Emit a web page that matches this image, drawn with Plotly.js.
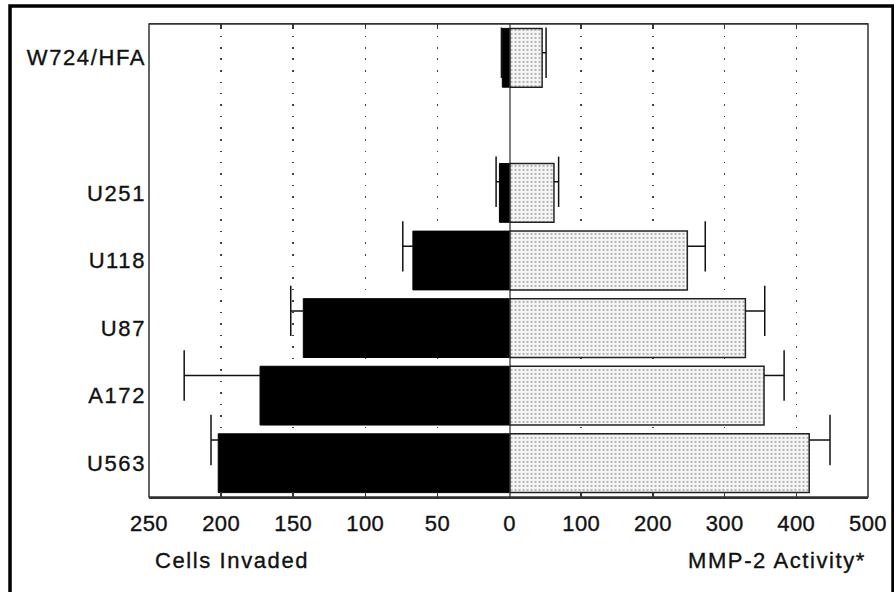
<!DOCTYPE html>
<html><head><meta charset="utf-8">
<script src="https://cdn.plot.ly/plotly-3.0.1.min.js"></script>
<style>
html,body{margin:0;padding:0;background:#fff}
#chart{width:894px;height:592px}
svg text{letter-spacing:1.6px; stroke:#111; stroke-width:0.35px}
.xtick text,.x2tick text{letter-spacing:0.4px}
</style>
</head><body><div id="chart"></div>
<script>
// category slots (bottom to top), blank slot between U251 and W724/HFA
const slots = ['U563','A172','U87','U118','U251',' ','W724/HFA'];
const cellLines = ['W724/HFA','U251','U118','U87','A172','U563'];
const cellsInvaded = [5, 7, 67, 143, 173, 202];
const cellsInvadedErr = [0.6, 2.3, 7, 8.7, 52.6, 5];
const mmp2Activity = [45.5, 62, 248, 329, 355, 418];
const mmp2Err = [5.5, 6.5, 25, 27, 28, 29];
const leftTicks = [250,200,150,100,50,0];
const rightTicks = [100,200,300,400,500];
const leftLabel = 'Cells Invaded';
const rightLabel = 'MMP-2 Activity*';

const FONT = 'Liberation Sans, Arial, Helvetica, sans-serif';
const split = 0.5014;

function errTrace(vals, errs, xa){
  return {
    type:'scatter', mode:'markers', xaxis:xa, yaxis:'y2',
    x: vals.map((v,i)=>v+errs[i]), y: cellLines,
    marker:{symbol:'line-ns-open', size:36, color:'#111', line:{color:'#111', width:1.5}},
    error_x:{type:'data', symmetric:false, array:errs.map(()=>0), arrayminus:errs,
             width:0, thickness:1.5, color:'#111'},
    hoverinfo:'skip', showlegend:false, cliponaxis:false
  };
}

const traces = [
  {type:'bar', orientation:'h', x:cellsInvaded, y:cellLines, xaxis:'x', yaxis:'y',
   width:0.87, marker:{color:'#000', line:{color:'#000', width:1}}, showlegend:false},
  {type:'bar', orientation:'h', x:mmp2Activity, y:cellLines, xaxis:'x2', yaxis:'y',
   width:0.87, marker:{color:'#f2f2f2',
     pattern:{shape:'.', fgcolor:'#b4b4b4', bgcolor:'#f6f6f6', size:4, solidity:0.25},
     line:{color:'#222', width:1.5}}, showlegend:false},
  errTrace(cellsInvaded, cellsInvadedErr, 'x'),
  errTrace(mmp2Activity, mmp2Err, 'x2')
];

const xcommon = {
  anchor:'y', showline:true, linecolor:'#333', linewidth:1.5, mirror:'ticks',
  ticks:'inside', ticklen:5, tickwidth:1.5, tickcolor:'#333',
  showgrid:true, gridcolor:'#444', gridwidth:1.5, griddash:'1.5px,10px',
  zeroline:false, tickmode:'array',
  tickfont:{family:FONT, size:22, color:'#111'}, ticklabelstandoff:6
};

const layout = {
  width:894, height:592,
  margin:{l:149, r:26, t:24, b:95},
  paper_bgcolor:'#fff', plot_bgcolor:'#fff',
  bargap:0, showlegend:false,
  xaxis:Object.assign({}, xcommon, {domain:[0, split], range:[250, 0], tickvals:leftTicks}),
  xaxis2:Object.assign({}, xcommon, {domain:[split, 1], range:[0, 500], tickvals:rightTicks}),
  yaxis:{type:'category', categoryorder:'array', categoryarray:slots, range:[-0.5, 6.5],
    showline:false, ticks:'', showgrid:false, zeroline:false, ticklabelstandoff:2,
    tickfont:{family:FONT, size:22, color:'#111'}},
  yaxis2:{type:'category', categoryorder:'array', categoryarray:slots, range:[-0.883, 6.445],
    overlaying:'y', anchor:'x', visible:false},
  shapes:[
    {type:'line', xref:'x2', x0:0, x1:0, yref:'paper', y0:0, y1:1, line:{color:'#000', width:2}},
    {type:'rect', xref:'paper', x0:0, x1:1, yref:'paper', y0:0, y1:1, line:{color:'#333', width:1.5}},
    {type:'rect', xref:'paper', x0:-0.1933, x1:1.0348, yref:'paper', y0:-0.4, y1:1.038, line:{color:'#000', width:3.5}}
  ],
  annotations:[
    {text:leftLabel, xref:'paper', yref:'paper', x:0.0056, y:-0.135, xanchor:'left', yanchor:'middle',
     showarrow:false, font:{family:FONT, size:22, color:'#111'}},
    {text:rightLabel, xref:'paper', yref:'paper', x:1.0, y:-0.135, xanchor:'right', yanchor:'middle',
     showarrow:false, font:{family:FONT, size:22, color:'#111'}}
  ]
};

Plotly.newPlot('chart', traces, layout, {staticPlot:true, displayModeBar:false});
</script></body></html>
